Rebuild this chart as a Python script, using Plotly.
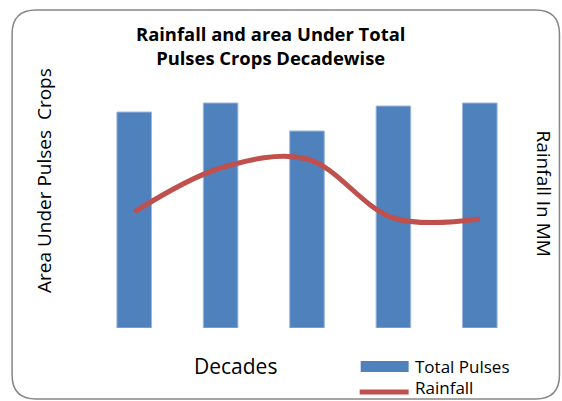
import plotly.graph_objects as go

# ---- data (axes have no tick labels) ----
decades = ["Decade 1", "Decade 2", "Decade 3", "Decade 4", "Decade 5"]
total_pulses = [21.6, 22.5, 19.7, 22.2, 22.5]          # area under pulses crops
rainfall = [1032, 1120, 1138, 1020, 1018]             # rainfall in mm

W, H = 562, 401
ML, MR, MT, MB = 91, 38.5, 78, 73
PW, PH = W - ML - MR, H - MT - MB

def px(x):  # pixel -> paper x
    return (x - ML) / PW

def py(y):  # pixel -> paper y
    return (H - MB - y) / PH

fig = go.Figure()
fig.add_trace(go.Bar(
    x=decades, y=total_pulses, name="Total Pulses",
    marker=dict(color="#4F81BD", line=dict(color="#9BB7DD", width=1)),
    yaxis="y", showlegend=False,
))
fig.add_trace(go.Scatter(
    x=decades, y=rainfall, name="Rainfall", mode="lines",
    line=dict(color="#C0504D", width=5, shape="spline", smoothing=1.0),
    yaxis="y2", showlegend=False,
))

# rounded chart border
L, R, T, B, r = 12, 560, 10, 399, 24
path = (f"M {px(L+r)},{py(T)} L {px(R-r)},{py(T)} "
        f"Q {px(R)},{py(T)} {px(R)},{py(T+r)} L {px(R)},{py(B-r)} "
        f"Q {px(R)},{py(B)} {px(R-r)},{py(B)} L {px(L+r)},{py(B)} "
        f"Q {px(L)},{py(B)} {px(L)},{py(B-r)} L {px(L)},{py(T+r)} "
        f"Q {px(L)},{py(T)} {px(L+r)},{py(T)} Z")
shapes = [dict(type="path", xref="paper", yref="paper", path=path,
               line=dict(color="#868686", width=1.5), fillcolor="rgba(0,0,0,0)")]
# legend swatches
shapes.append(dict(type="rect", xref="paper", yref="paper",
                   x0=px(361), x1=px(409), y0=py(372), y1=py(361),
                   fillcolor="#4F81BD", line=dict(width=0)))
shapes.append(dict(type="line", xref="paper", yref="paper",
                   x0=px(360), x1=px(409), y0=py(392), y1=py(392),
                   line=dict(color="#C0504D", width=5)))

font = "'Open Sans', sans-serif"

def ann(text, x, y, size, xanchor="center", yanchor="middle", **kw):
    return dict(text=text, x=px(x), y=py(y), xref="paper", yref="paper",
                xanchor=xanchor, yanchor=yanchor, showarrow=False,
                font=dict(size=size, color="black", family=font), **kw)

annotations = [
    ann("<b>Rainfall and area Under Total<br>Pulses Crops Decadewise</b>",
        271, 45, 18.4, align="center"),
    ann("Area Under Pulses  Crops", 44, 181, 19, textangle=-90),
    ann("Rainfall In MM", 545, 194, 19, textangle=90),
    ann("Decades", 236, 366, 21),
    ann("Total Pulses", 413, 366, 17, xanchor="left"),
    ann("Rainfall", 413, 400.5, 17, xanchor="left", yanchor="bottom"),
]

fig.update_layout(
    width=W, height=H,
    margin=dict(l=ML, r=MR, t=MT, b=MB),
    paper_bgcolor="white", plot_bgcolor="white",
    bargap=0.6,
    xaxis=dict(showticklabels=False, showgrid=False, zeroline=False,
               showline=False, ticks=""),
    yaxis=dict(range=[0, 25], showticklabels=False, showgrid=False,
               zeroline=False, showline=False, ticks=""),
    yaxis2=dict(range=[800, 1300], overlaying="y", side="right",
                showticklabels=False, showgrid=False, zeroline=False,
                showline=False, ticks=""),
    shapes=shapes, annotations=annotations,
)

fig.write_html("out.html", config={"displayModeBar": False},
               post_script="document.body.style.margin='0';document.body.style.overflow='hidden';")
